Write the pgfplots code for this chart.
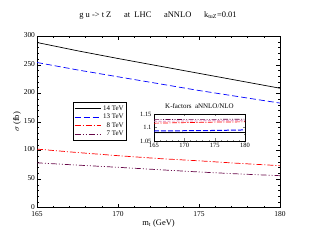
\documentclass[border=0pt]{standalone}
\usepackage{pgfplots}
\pgfplotsset{compat=1.18}
\usepackage{fontspec}
\setmainfont{Liberation Serif}
\definecolor{gblue}{RGB}{0,0,255}
\definecolor{gred}{RGB}{255,0,0}
\definecolor{gmaroon}{RGB}{103,7,72}
\definecolor{gpink}{RGB}{220,120,180}
\definecolor{ggrey}{RGB}{150,150,150}
\begin{document}
\begin{tikzpicture}[x=1bp,y=1bp]
\useasboundingbox (0,0) rectangle (316,244);
\node[font=\fontsize{8.5}{10}\selectfont] at (158,229) {g u -> t Z \quad\ at\ \ LHC \quad\ aNNLO \quad\ k$_{\mathrm{tuZ}}$=0.01};
\begin{axis}[
  at={(37bp,36.3bp)}, anchor=south west,
  scale only axis, width=243bp, height=171.5bp,
  xmin=165, xmax=180, ymin=0, ymax=300,
  xtick={165,170,175,180}, ytick={0,50,...,300},
  minor x tick num=4, minor y tick num=4,
  tick align=inside, tick pos=both,
  major tick length=4bp, minor tick length=2bp,
  every tick/.style={black, line width=0.5pt},
  axis line style={line width=0.8pt},
  tick label style={font=\fontsize{7.5}{9}\selectfont},
  /pgf/number format/assume math mode=true,
  yticklabel style={xshift=1.5bp, yshift=1bp},
  xticklabel style={yshift=-0.5bp},
  xlabel={m$_{\mathrm t}$ (GeV)}, ylabel={$\sigma$ (fb)},
  label style={font=\fontsize{8.5}{10}\selectfont},
  xlabel style={yshift=4bp}, ylabel style={yshift=-4bp},
  legend style={at={(0.148,0.616)}, anchor=north west, draw=black, line width=0.8pt,
    font=\fontsize{7}{8}\selectfont, inner sep=1pt, row sep=-1.5pt, fill=white},
  legend cell align=right,
  legend image code/.code={\draw[#1] (0bp,0bp) -- (26bp,0bp);},
]
\addplot[black, line width=0.7pt] coordinates {(165,289) (167.5,274.5) (170,261) (172.5,248) (175,235) (177.5,222) (180,209)};
\addlegendentry{14 TeV}
\addplot[gblue, line width=0.7pt, dash pattern=on 6bp off 3bp] coordinates {(165,254) (167.5,241) (170,229) (172.5,217) (175,205) (177.5,194) (180,183)};
\addlegendentry{13 TeV}
\addplot[gred, line width=0.7pt, dash pattern=on 6bp off 2bp on 1bp off 2bp] coordinates {(165,102.5) (167.5,96.5) (170,91) (172.5,86) (175,82) (177.5,77.5) (180,73.5)};
\addlegendentry{8 TeV}
\addplot[gmaroon, line width=0.7pt, dash pattern=on 6bp off 2bp on 1bp off 2bp on 1bp off 2bp] coordinates {(165,78.5) (167.5,74.5) (170,70.7) (172.5,66.5) (175,62.5) (177.5,59) (180,56)};
\addlegendentry{7 TeV}
\end{axis}
\node[font=\fontsize{7}{8}\selectfont] at (199.5,138) {K-factors\ \ aNNLO/NLO};
\begin{axis}[
  at={(154bp,103bp)}, anchor=south west,
  scale only axis, width=91bp, height=27bp,
  xmin=165, xmax=180, ymin=1.05, ymax=1.15,
  xtick={165,170,175,180}, ytick={1.05,1.1,1.15},
  yticklabels={1.05,1.1,1.15},
  minor x tick num=4, minor y tick num=1,
  tick align=inside, tick pos=both,
  major tick length=2.5bp, minor tick length=1.2bp,
  axis line style={line width=0.8pt},
  axis background/.style={fill=white},
  tick label style={font=\fontsize{6.5}{7}\selectfont},
  /pgf/number format/assume math mode=true,
  yticklabel style={xshift=1bp},
  xticklabel style={yshift=1bp},
]
\addplot[ggrey, line width=0.8pt] coordinates {(165,1.081) (170,1.081) (175,1.082)};
\addplot[black, line width=0.8pt] coordinates {(165,1.083) (170,1.083) (175,1.083) (180,1.083)};
\addplot[gblue, line width=1pt, dash pattern=on 5bp off 2bp] coordinates {(165,1.087) (170,1.088) (175,1.089) (180,1.091)};
\addplot[gred, line width=0.7pt, dash pattern=on 5bp off 1.5bp on 1bp off 1.5bp] coordinates {(165,1.116) (170,1.118) (175,1.12) (180,1.121)};
\addplot[gpink, line width=0.7pt, dash pattern=on 3bp off 1.5bp] coordinates {(165,1.123) (170,1.124) (175,1.125) (180,1.125)};
\addplot[gmaroon, line width=0.7pt, dash pattern=on 5bp off 1.5bp on 1bp off 1.5bp on 1bp off 1.5bp] coordinates {(165,1.129) (170,1.13) (175,1.13) (180,1.131)};
\end{axis}
\end{tikzpicture}
\end{document}
